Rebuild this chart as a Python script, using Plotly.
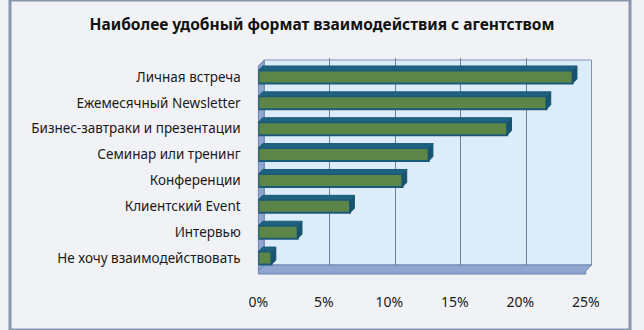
import plotly.graph_objects as go

categories = [
    "Личная встреча",
    "Ежемесячный Newsletter",
    "Бизнес-завтраки и презентации",
    "Семинар или тренинг",
    "Конференции",
    "Клиентский Event",
    "Интервью",
    "Не хочу взаимодействовать",
]
values = [24, 22, 19, 13, 11, 7, 3, 1]
tick_vals = [0, 5, 10, 15, 20, 25]
tick_text = ["0%", "5%", "10%", "15%", "20%", "25%"]
title = "Наиболее удобный формат взаимодействия с агентством"

W, H = 644, 330
# back wall (gridlines) and front plane (bars)
back_l, back_r = 264, 604
depth_x, depth_y = 6, 6
front_l, front_r = back_l - depth_x, back_r - depth_x
plot_top, plot_bot = 64, 271

n = len(categories)
ypos = list(range(n))[::-1]  # first category at top

fig = go.Figure()

# invisible trace so the back-wall subplot (with gridlines) is drawn
fig.add_trace(go.Scatter(
    x=[tick_vals[0], tick_vals[-1]], y=[0, 0], mode="markers",
    marker=dict(opacity=0), xaxis="x", yaxis="y", hoverinfo="skip",
    showlegend=False,
))

# bars on front plane
fig.add_trace(go.Bar(
    x=values, y=ypos, orientation="h", width=0.5,
    marker=dict(color="#5c8548", line=dict(color="#1b5a78", width=2)),
    xaxis="x2", yaxis="y2", hoverinfo="skip", showlegend=False,
))

# 3D end caps and top faces computed from data
dx = depth_x * 0.75 * 25 / (front_r - front_l)
dy = depth_y * 0.75 / ((plot_bot - plot_top) / n)
for v, yy in zip(values, ypos):
    fig.add_trace(go.Scatter(
        x=[v, v + dx, v + dx, v, v],
        y=[yy - 0.25, yy - 0.25 + dy, yy + 0.25 + dy, yy + 0.25, yy - 0.25],
        fill="toself", fillcolor="#185470", mode="lines",
        line=dict(color="#185470", width=1),
        xaxis="x2", yaxis="y2", hoverinfo="skip", showlegend=False,
    ))
    fig.add_trace(go.Scatter(
        x=[0, dx, v + dx, v, 0],
        y=[yy + 0.25, yy + 0.25 + dy, yy + 0.25 + dy, yy + 0.25, yy + 0.25],
        fill="toself", fillcolor="#1f6280", mode="lines",
        line=dict(color="#1b5a78", width=1),
        xaxis="x2", yaxis="y2", hoverinfo="skip", showlegend=False,
    ))

shapes = [
    # back wall
    dict(type="rect", xref="paper", yref="paper",
         x0=back_l / W, x1=back_r / W,
         y0=1 - (plot_bot - depth_y) / H, y1=1 - (plot_top - 4) / H,
         fillcolor="#dcedf9", line=dict(color="#7f93b3", width=1), layer="below"),
    # left wall
    dict(type="path", xref="paper", yref="paper",
         path=f"M {front_l/W},{1-(plot_top+2)/H} L {back_l/W},{1-(plot_top-4)/H} "
              f"L {back_l/W},{1-(plot_bot-depth_y)/H} L {front_l/W},{1-plot_bot/H} Z",
         fillcolor="#8ea6d0", line=dict(color="#6d84ad", width=1), layer="below"),
    # floor
    dict(type="path", xref="paper", yref="paper",
         path=f"M {front_l/W},{1-plot_bot/H} L {back_l/W},{1-(plot_bot-depth_y)/H} "
              f"L {back_r/W},{1-(plot_bot-depth_y)/H} L {front_r/W},{1-plot_bot/H} "
              f"L {front_r/W},{1-(plot_bot+3)/H} L {front_l/W},{1-(plot_bot+3)/H} Z",
         fillcolor="#8ea6d0", line=dict(color="#6d84ad", width=1), layer="below"),
    # outer border
    dict(type="rect", xref="paper", yref="paper", x0=0, x1=1, y0=0, y1=1,
         line=dict(color="#8796ad", width=3), fillcolor="rgba(0,0,0,0)"),
]

fig.update_layout(
    width=W, height=H,
    margin=dict(l=0, r=0, t=0, b=0),
    paper_bgcolor="#f1f2f5",
    plot_bgcolor="rgba(0,0,0,0)",
    showlegend=False,
    font=dict(family="Noto Sans", size=13.5, color="#1a1a1a"),
    title=dict(text=f"<b>{title}</b>", x=0.5, xanchor="center",
               y=1 - 25 / H, yanchor="middle",
               font=dict(family="Noto Sans", size=15.5, color="#111111")),
    xaxis=dict(domain=[back_l / W, back_r / W], range=[0, 25],
               tickvals=tick_vals, showticklabels=False,
               showgrid=True, gridcolor="#6e819c", gridwidth=1,
               zeroline=False, anchor="y"),
    yaxis=dict(domain=[1 - (plot_bot - depth_y) / H, 1 - (plot_top - depth_y) / H],
               range=[-0.5, n - 0.5], showgrid=False, showticklabels=False,
               zeroline=False, anchor="x"),
    xaxis2=dict(domain=[front_l / W, front_r / W], range=[0, 25],
                tickvals=tick_vals, ticktext=tick_text, showgrid=False,
                zeroline=False, anchor="y2",
                ticks="outside", ticklen=18, tickcolor="rgba(0,0,0,0)",
                tickfont=dict(size=14)),
    yaxis2=dict(domain=[1 - plot_bot / H, 1 - plot_top / H],
                range=[-0.5, n - 0.5], tickvals=ypos, ticktext=categories,
                showgrid=False, zeroline=False, anchor="x2",
                ticks="outside", ticklen=14, tickcolor="rgba(0,0,0,0)"),
    shapes=shapes,
)

fig.write_html("out.html")
